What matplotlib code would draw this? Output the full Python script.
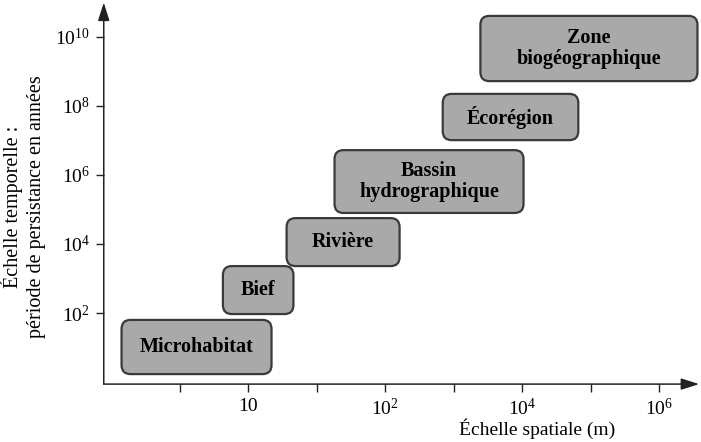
import matplotlib
matplotlib.use('Agg')
import matplotlib.pyplot as plt
from matplotlib.patches import FancyBboxPatch

plt.rcParams['font.family'] = ['Liberation Serif', 'DejaVu Serif']
plt.rcParams['mathtext.fontset'] = 'custom'
plt.rcParams['mathtext.rm'] = 'Liberation Serif'

# Boxes, in log10 units (x: metres, y: years)
labels = ['Microhabitat', 'Bief', 'Rivière', 'Bassin\nhydrographique',
          'Écorégion', 'Zone\nbiogéographique']
x_lo = [-1.85, -0.37, 0.56, 1.26, 2.84, 3.39]
x_hi = [0.34, 0.66, 2.21, 4.02, 4.82, 6.56]
y_lo = [0.23, 1.97, 3.36, 4.90, 7.01, 8.72]
y_hi = [1.80, 3.36, 4.75, 6.72, 8.35, 10.61]

x_ticks = [-1, 0, 1, 2, 3, 4, 5, 6]
x_ticklabels = ['', '10', '', r'$\mathregular{10^2}$', '',
                r'$\mathregular{10^4}$', '', r'$\mathregular{10^6}$']
y_ticks = [2, 4, 6, 8, 10]
y_ticklabels = [r'$\mathregular{10^{%d}}$' % e for e in y_ticks]

fig = plt.figure(figsize=(7.01, 4.42), dpi=100)
ax = fig.add_axes([0.148, 0.131, 0.846, 0.858])
ax.set_xlim(-2.11, 6.55)
ax.set_ylim(-0.06, 10.93)

for s in ax.spines.values():
    s.set_visible(False)

# axes with arrow heads
arrow = dict(arrowstyle='-|>,head_length=1.1,head_width=0.35', color='#222222',
             lw=1.1, shrinkA=0, shrinkB=0)
ax.annotate('', xy=(1.004, 0), xytext=(0, 0), xycoords='axes fraction', arrowprops=arrow)
ax.annotate('', xy=(0, 1.006), xytext=(0, 0), xycoords='axes fraction', arrowprops=arrow)

ax.set_xticks(x_ticks)
ax.set_xticklabels(x_ticklabels, fontsize=14)
ax.set_yticks(y_ticks)
ax.set_yticklabels(y_ticklabels, fontsize=14)
ax.tick_params(direction='out', length=6, width=1, color='#222222', pad=4)

for lab, x0, x1, y0, y1 in zip(labels, x_lo, x_hi, y_lo, y_hi):
    box = FancyBboxPatch((x0, y0), x1 - x0, y1 - y0,
                         boxstyle='round,pad=0,rounding_size=0.13',
                         mutation_aspect=2.0, facecolor='#a9a9a9',
                         edgecolor='#3a3a3a', lw=1.6, clip_on=False, zorder=3)
    ax.add_patch(box)
    ax.text((x0 + x1) / 2, (y0 + y1) / 2, lab, ha='center', va='center',
            fontsize=14.5, fontweight='bold', linespacing=1.1, zorder=4)

ax.set_xlabel('Échelle spatiale (m)', fontsize=14)
ax.xaxis.set_label_coords(0.73, -0.09)
ax.set_ylabel('Échelle temporelle :\npériode de persistance en années',
              fontsize=14.5, linespacing=1.25)
ax.yaxis.set_label_coords(-0.098, 0.467)

fig.savefig('out.png', dpi=100)
